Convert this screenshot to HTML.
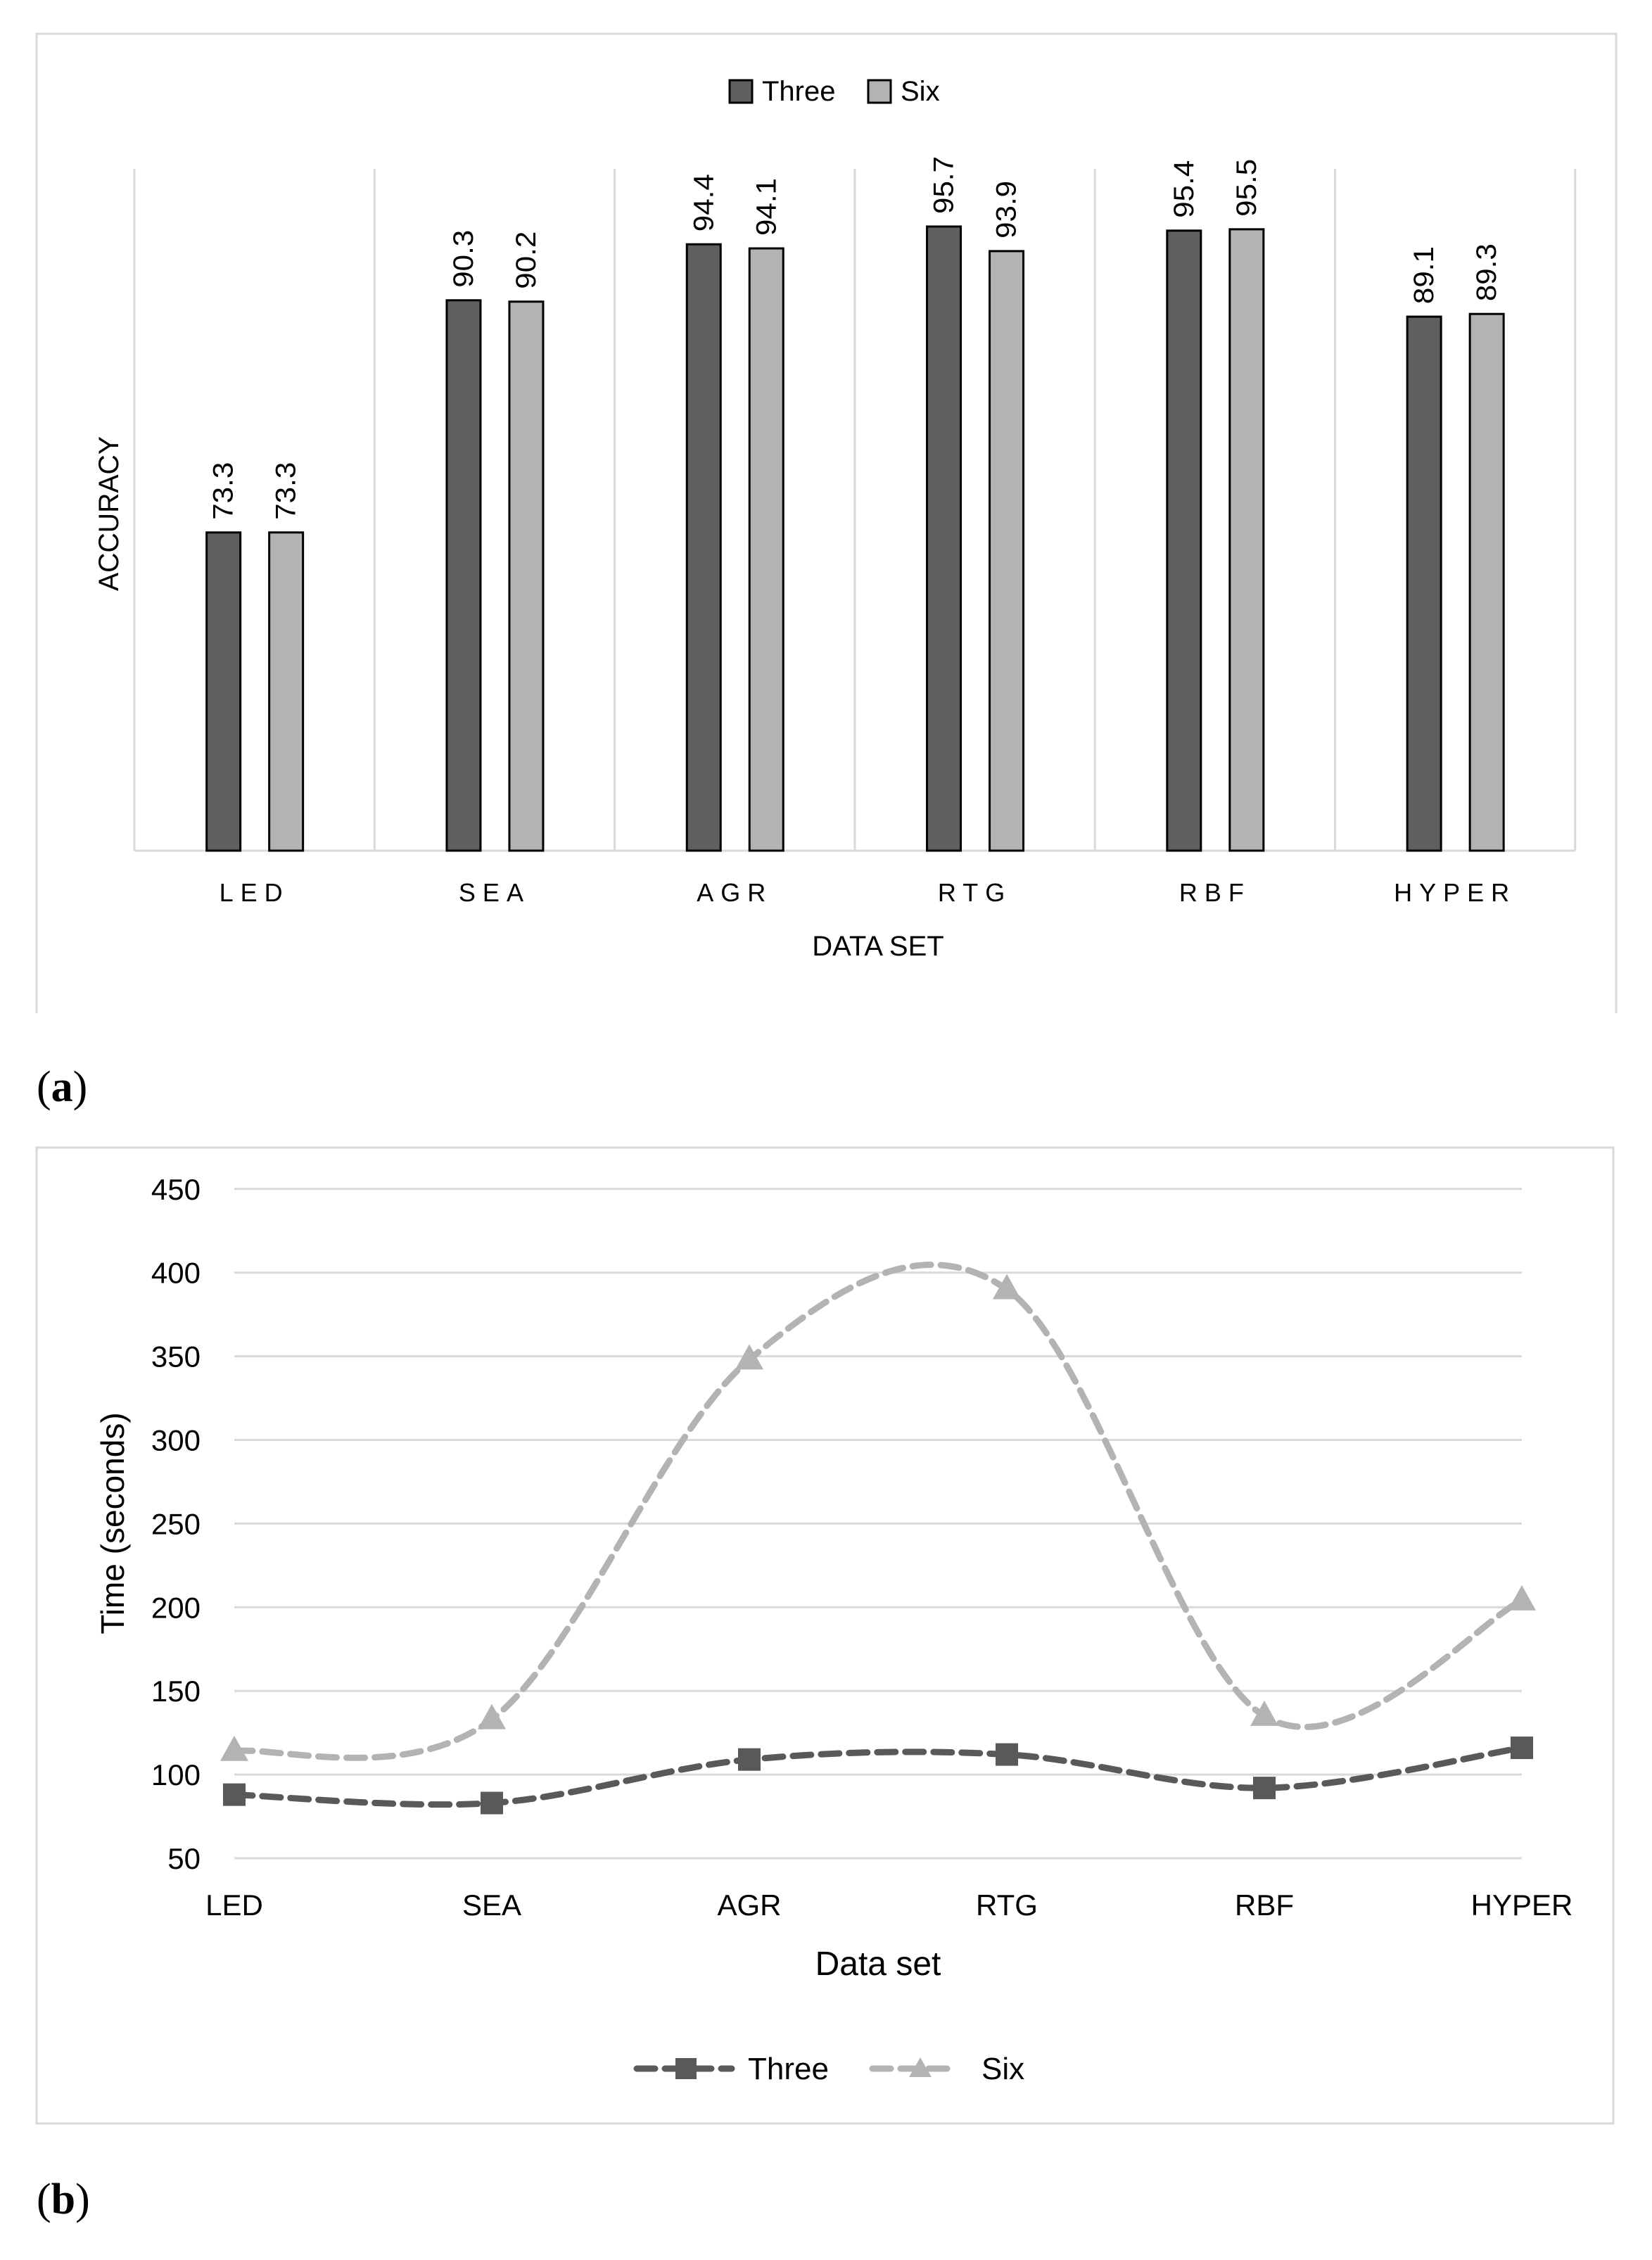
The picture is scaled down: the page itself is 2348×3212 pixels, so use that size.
<!DOCTYPE html>
<html><head><meta charset="utf-8"><style>
html,body{margin:0;padding:0;background:#fff;width:2348px;height:3212px;overflow:hidden}
svg{display:block}
</style></head><body>
<svg id="s" xmlns="http://www.w3.org/2000/svg" width="2348" height="3212" viewBox="0 0 2348 3212" font-family="Liberation Sans, sans-serif">
<rect width="2348" height="3212" fill="#fff"/>
<path d="M52 1440 V48 H2297 V1440" fill="none" stroke="#d9d9d9" stroke-width="3"/>
<g id="a"></g>
<rect x="1037" y="114" width="32" height="32" fill="#5f5f5f" stroke="#000" stroke-width="3"/>
<text x="1083" y="143" font-size="40" fill="#000">Three</text>
<rect x="1234" y="114" width="32" height="32" fill="#b3b3b3" stroke="#000" stroke-width="3"/>
<text x="1280" y="143" font-size="40" fill="#000">Six</text>
<text transform="translate(168,730) rotate(-90)" text-anchor="middle" font-size="40" textLength="220" lengthAdjust="spacingAndGlyphs">ACCURACY</text>
<text x="1248" y="1358" text-anchor="middle" font-size="40">DATA SET</text>
<text x="52" y="1565" font-family="Liberation Serif, serif" font-size="62">(<tspan font-weight="bold">a</tspan>)</text>
<rect x="52" y="1631" width="2241" height="1387" fill="none" stroke="#d9d9d9" stroke-width="3"/>
<g id="b"></g>
<text transform="translate(176,2165) rotate(-90)" text-anchor="middle" font-size="46">Time (seconds)</text>
<text x="1248" y="2807" text-anchor="middle" font-size="48">Data set</text>
<path d="M905 2940 H1040" stroke="#595959" stroke-width="9" stroke-dasharray="26 14" stroke-linecap="round"/>
<rect x="960" y="2925" width="30" height="30" fill="#595959"/>
<text x="1063" y="2955" font-size="44">Three</text>
<path d="M1240 2940 H1360" stroke="#b3b3b3" stroke-width="9" stroke-dasharray="26 14" stroke-linecap="round"/>
<path d="M1308 2924 L1324 2952 L1292 2952Z" fill="#b3b3b3"/>
<text x="1395" y="2955" font-size="44">Six</text>
<text x="52" y="3146" font-family="Liberation Serif, serif" font-size="62">(<tspan font-weight="bold">b</tspan>)</text>
</svg>
<script>
var NS="http://www.w3.org/2000/svg";
function el(p,t,a,txt){var e=document.createElementNS(NS,t);for(var k in a)e.setAttribute(k,a[k]);if(txt!=null)e.textContent=txt;p.appendChild(e);return e;}
var A=document.getElementById('a');
var cats=["LED","SEA","AGR","RTG","RBF","HYPER"];
var three=[73.3,90.3,94.4,95.7,95.4,89.1], six=[73.3,90.2,94.1,93.9,95.5,89.3];
var x0=191,w=341.3,base=1209,k=19.41;
for(var i=0;i<=6;i++){el(A,'line',{x1:x0+i*w,y1:240,x2:x0+i*w,y2:base,stroke:'#d9d9d9','stroke-width':3});}
el(A,'line',{x1:x0,y1:base,x2:x0+6*w,y2:base,stroke:'#d9d9d9','stroke-width':3});
for(var i=0;i<6;i++){
 var c=x0+i*w+w/2;
 [[three[i],c-44,'#5f5f5f'],[six[i],c+45,'#b3b3b3']].forEach(function(d){
  var y=base-(d[0]-50)*k;
  el(A,'rect',{x:d[1]-24,y:y,width:48,height:base-y,fill:d[2],stroke:'#000','stroke-width':3});
  el(A,'text',{transform:'translate('+(d[1]+13)+','+(y-18)+') rotate(-90)','font-size':40,'textLength':82,'lengthAdjust':'spacingAndGlyphs'},d[0].toFixed(1));
 });
 el(A,'text',{x:c,y:1281,'text-anchor':'middle','font-size':36,'letter-spacing':'10'},cats[i]);
}
var B=document.getElementById('b');
var bx0=333,bx1=2163,sp=(bx1-bx0)/5;
function Y(v){return 2641-(v-50)*2.378;}
for(var v=50;v<=450;v+=50){var y=Y(v);el(B,'line',{x1:bx0,y1:y,x2:bx1,y2:y,stroke:'#d9d9d9','stroke-width':3});el(B,'text',{x:285,y:y+15,'text-anchor':'end','font-size':42},v);}
for(var i=0;i<6;i++)el(B,'text',{x:bx0+i*sp,y:2722,'text-anchor':'middle','font-size':42},cats[i]);
function curve(d){var p=d.map(function(v,i){return[bx0+i*sp,Y(v)];});var s='M'+p[0][0]+' '+p[0][1];
 for(var i=0;i<p.length-1;i++){var p0=p[i-1]||p[i],p1=p[i],p2=p[i+1],p3=p[i+2]||p2;var t=1/6;
  s+=' C'+(p1[0]+(p2[0]-p0[0])*t)+' '+(p1[1]+(p2[1]-p0[1])*t)+' '+(p2[0]-(p3[0]-p1[0])*t)+' '+(p2[1]-(p3[1]-p1[1])*t)+' '+p2[0]+' '+p2[1];}
 return s;}
var T=[88,83,109,112,92,116],S=[114,133,348,390,135,204];
el(B,'path',{d:curve(S),fill:'none',stroke:'#b3b3b3','stroke-width':9,'stroke-dasharray':'26 14','stroke-linecap':'round'});
el(B,'path',{d:curve(T),fill:'none',stroke:'#595959','stroke-width':9,'stroke-dasharray':'26 14','stroke-linecap':'round'});
S.forEach(function(v,i){var x=bx0+i*sp,y=Y(v);el(B,'path',{d:'M'+x+' '+(y-22)+' L'+(x+20)+' '+(y+14)+' L'+(x-20)+' '+(y+14)+'Z',fill:'#b3b3b3'});});
T.forEach(function(v,i){var x=bx0+i*sp,y=Y(v);el(B,'rect',{x:x-16,y:y-16,width:32,height:32,fill:'#595959'});});
</script>
</body></html>
